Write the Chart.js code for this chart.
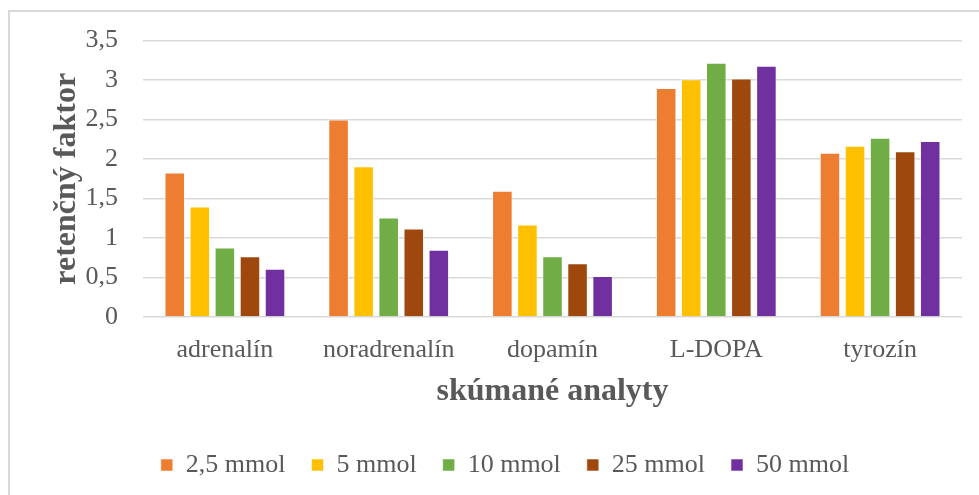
<!DOCTYPE html>
<html>
<head>
<meta charset="utf-8">
<script src="https://cdn.jsdelivr.net/npm/chart.js@4"></script>
<style>
  html, body { margin: 0; padding: 0; background: #ffffff; overflow: hidden; }
  #wrap { position: relative; width: 979px; height: 495px; }
  #frame { position: absolute; left: 8px; top: 10px; width: 1000px; height: 520px;
           border: 2px solid #d9d9d9; box-sizing: border-box; }
  canvas { position: absolute; left: 0; top: 0; }
</style>
</head>
<body>
<div id="wrap">
  <div id="frame"></div>
  <canvas id="chart" width="979" height="495"></canvas>
</div>
<script>
// Analytes on the x axis
const categories = ['adrenalín', 'noradrenalín', 'dopamín', 'L-DOPA', 'tyrozín'];

// Retention factor per analyte for each buffer concentration
const mmol2_5 = [1.83, 2.50, 1.60, 2.90, 2.08];
const mmol5   = [1.40, 1.91, 1.17, 3.01, 2.17];
const mmol10  = [0.88, 1.26, 0.77, 3.22, 2.27];
const mmol25  = [0.77, 1.12, 0.68, 3.02, 2.10];
const mmol50  = [0.61, 0.85, 0.52, 3.18, 2.23];

const seriesNames = ['2,5 mmol', '5 mmol', '10 mmol', '25 mmol', '50 mmol'];
const yTickLabels = ['0', '0,5', '1', '1,5', '2', '2,5', '3', '3,5'];

const colors = ['#ED7D31', '#FFC000', '#70AD47', '#9E480E', '#7030A0'];
const seriesValues = [mmol2_5, mmol5, mmol10, mmol25, mmol50];

const textColor = '#595959';
const serif = "'Liberation Serif', 'Times New Roman', serif";

new Chart(document.getElementById('chart'), {
  type: 'bar',
  data: {
    labels: categories,
    datasets: seriesValues.map((vals, i) => ({
      label: seriesNames[i],
      data: vals,
      backgroundColor: colors[i],
      borderColor: 'rgba(255,255,255,0.55)',
      borderWidth: 1,
      barPercentage: 0.82,
      categoryPercentage: 0.765
    }))
  },
  options: {
    responsive: false,
    animation: false,
    layout: { padding: { left: 48, right: 17, top: 39, bottom: 7 } },
    plugins: {
      tooltip: { enabled: false },
      legend: {
        position: 'bottom',
        labels: {
          boxWidth: 12,
          boxHeight: 12,
          padding: 26,
          color: textColor,
          font: { family: serif, size: 26 }
        }
      }
    },
    scales: {
      x: {
        grid: { display: false, drawTicks: false },
        border: { display: false },
        ticks: { color: textColor, font: { family: serif, size: 26 }, padding: 18, maxRotation: 0 },
        title: {
          display: true,
          text: 'skúmané analyty',
          color: textColor,
          font: { family: serif, size: 32, weight: 'bold' },
          padding: { top: 0, bottom: 15 }
        },
        afterFit: (scale) => { scale.height = 109; }
      },
      y: {
        min: 0,
        max: 3.5,
        ticks: {
          stepSize: 0.5,
          color: textColor,
          font: { family: serif, size: 26 },
          padding: 25,
          callback: (value, index) => yTickLabels[index]
        },
        grid: { color: '#d9d9d9', lineWidth: 1.5, drawTicks: false },
        border: { display: false },
        title: {
          display: true,
          text: 'retenčný faktor',
          color: textColor,
          font: { family: serif, size: 32, weight: 'bold' },
          padding: { top: 0, bottom: 0 }
        },
        afterFit: (scale) => { scale.width = 95; }
      }
    }
  }
});
</script>
</body>
</html>
